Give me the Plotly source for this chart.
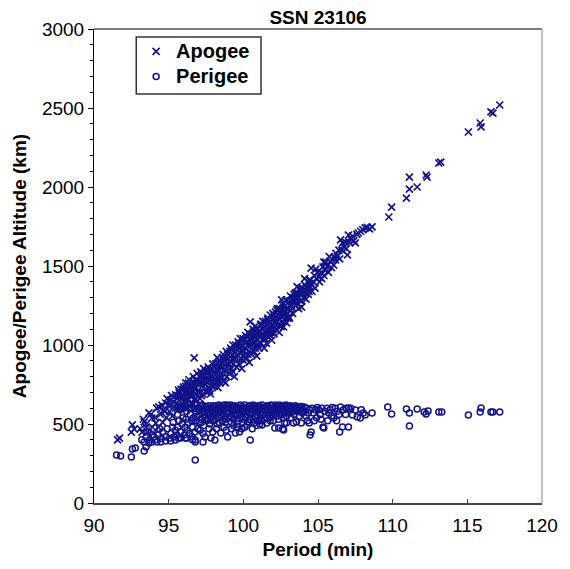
import plotly.graph_objects as go

# Apogee (period min, altitude km)
apogee_points = [
    (91.58, 399), (91.71, 411), (92.50, 449), (92.57, 494), (92.70, 468),
    (93.22, 449), (93.36, 513), (93.49, 481), (93.68, 570), (93.88, 538),
    (94.01, 443), (94.14, 506), (93.1, 470), (93.3, 530), (93.5, 500),
    (93.6, 450), (93.8, 560), (93.9, 480),
    (94.34, 608), (94.67, 589), (94.80, 633), (95.13, 652), (95.46, 684),
    (95.66, 715), (95.99, 734), (96.32, 759),
    (94.1, 540), (94.2, 600), (94.3, 480), (94.45, 560), (94.55, 620),
    (94.6, 510), (94.75, 580), (94.85, 540), (94.95, 620), (94.9, 660),
    (95.05, 580), (95.1, 620), (95.2, 680), (95.25, 550), (95.35, 640),
    (95.45, 600), (95.55, 660), (95.6, 600), (95.7, 700), (95.75, 620),
    (95.85, 680), (95.9, 610), (95.95, 720),
    (95.52, 630), (95.62, 680), (95.72, 650), (95.82, 720), (95.92, 660),
    (96.02, 700), (96.12, 740), (96.22, 700), (96.32, 720), (96.42, 680),
    (96.52, 720), (96.62, 770), (96.72, 760), (96.82, 730), (96.92, 780),
    (96.05, 640), (96.1, 700), (96.15, 760), (96.2, 665), (96.25, 730),
    (96.3, 690), (96.35, 780), (96.4, 620), (96.45, 745), (96.1, 600),
    (96.3, 650), (96.45, 700),
    (96.55, 680), (96.6, 740), (96.65, 800), (96.7, 655), (96.75, 720),
    (96.8, 780), (96.85, 690), (96.9, 820), (96.95, 750), (96.6, 630),
    (96.8, 660), (96.95, 700), (96.71, 918),
    (97.05, 700), (97.1, 770), (97.15, 830), (97.2, 680), (97.25, 740),
    (97.3, 800), (97.35, 850), (97.4, 720), (97.45, 780), (97.1, 660),
    (97.3, 690), (97.45, 830),
    (97.02, 760), (97.12, 800), (97.22, 820), (97.32, 760), (97.42, 810), (97.48, 750),
    (97.55, 700), (97.6, 760), (97.65, 860), (97.7, 730), (97.75, 800),
    (97.8, 690), (97.85, 840), (97.9, 770), (97.95, 880), (97.6, 820),
    (97.75, 710), (97.9, 740),
    (97.52, 790), (97.62, 840), (97.72, 780), (97.82, 810), (97.92, 850), (97.98, 800),
    (98.05, 740), (98.1, 810), (98.15, 880), (98.2, 760), (98.25, 920),
    (98.3, 840), (98.35, 780), (98.4, 900), (98.45, 820), (98.1, 860),
    (98.3, 730), (98.45, 760),
    (98.02, 830), (98.12, 780), (98.22, 850), (98.32, 890), (98.42, 860), (98.48, 800),
    (98.55, 790), (98.6, 860), (98.65, 940), (98.7, 770), (98.75, 900),
    (98.8, 830), (98.85, 960), (98.9, 800), (98.95, 880), (98.6, 920),
    (98.8, 760), (98.95, 940),
    (98.52, 850), (98.62, 890), (98.72, 840), (98.82, 920), (98.92, 860), (98.98, 910),
    (99.05, 820), (99.1, 900), (99.15, 980), (99.2, 850), (99.25, 940),
    (99.3, 1000), (99.35, 880), (99.4, 800), (99.45, 960), (99.1, 960),
    (99.3, 830), (99.45, 910),
    (99.02, 880), (99.12, 930), (99.22, 970), (99.32, 910), (99.42, 950), (99.48, 1000),
    (99.55, 860), (99.6, 940), (99.65, 1020), (99.7, 880), (99.75, 980),
    (99.8, 1040), (99.85, 910), (99.9, 850), (99.95, 1000), (99.6, 990),
    (99.8, 950), (99.95, 930),
    (99.52, 920), (99.62, 970), (99.72, 1010), (99.82, 990), (99.92, 960), (99.98, 1040),
    (100.05, 900), (100.1, 980), (100.15, 1060), (100.2, 920), (100.25, 1020),
    (100.3, 1080), (100.35, 960), (100.4, 890), (100.45, 1040), (100.1, 1030),
    (100.3, 940), (100.45, 990), (100.46, 1146),
    (100.02, 960), (100.12, 1010), (100.22, 1050), (100.32, 1000), (100.42, 1070), (100.48, 950),
    (100.55, 940), (100.6, 1010), (100.65, 1100), (100.7, 960), (100.75, 1060),
    (100.8, 1120), (100.85, 1000), (100.9, 930), (100.95, 1080), (100.6, 1060),
    (100.8, 980), (100.95, 1030),
    (100.52, 1000), (100.62, 1040), (100.72, 1090), (100.82, 1050), (100.92, 1100), (100.98, 1000),
    (101.05, 980), (101.1, 1050), (101.15, 1130), (101.2, 1010), (101.25, 1100),
    (101.3, 1150), (101.35, 1040), (101.4, 980), (101.45, 1120), (101.1, 1090),
    (101.3, 1070), (101.45, 1060),
    (101.02, 1060), (101.12, 1010), (101.22, 1130), (101.32, 1100), (101.42, 1040), (101.48, 1150),
    (101.55, 1010), (101.6, 1090), (101.65, 1170), (101.7, 1050), (101.75, 1140),
    (101.8, 1190), (101.85, 1080), (101.9, 1030), (101.95, 1160), (101.6, 1130),
    (101.8, 1110), (101.95, 1100),
    (101.52, 1080), (101.62, 1160), (101.72, 1120), (101.82, 1060), (101.92, 1130), (101.98, 1200),
    (102.05, 1070), (102.1, 1140), (102.15, 1210), (102.2, 1100), (102.25, 1180),
    (102.3, 1230), (102.35, 1130), (102.4, 1080), (102.45, 1200), (102.04, 1190),
    (102.24, 1222), (102.43, 1160), (102.57, 1285),
    (102.02, 1120), (102.12, 1170), (102.22, 1150), (102.32, 1190), (102.42, 1230), (102.48, 1120),
    (102.55, 1120), (102.6, 1190), (102.65, 1260), (102.7, 1241), (102.75, 1160),
    (102.8, 1220), (102.85, 1280), (102.9, 1140), (102.95, 1200), (102.6, 1150),
    (102.89, 1285), (102.7, 1114),
    (102.52, 1180), (102.62, 1230), (102.72, 1190), (102.82, 1250), (102.92, 1230), (102.98, 1170),
    (103.05, 1180), (103.1, 1250), (103.15, 1310), (103.2, 1220), (103.25, 1280),
    (103.3, 1200), (103.36, 1285), (103.4, 1320), (103.45, 1250), (103.1, 1170),
    (103.3, 1230), (103.45, 1300),
    (103.02, 1230), (103.12, 1280), (103.22, 1250), (103.32, 1300), (103.42, 1270), (103.48, 1330),
    (103.55, 1329), (103.6, 1260), (103.65, 1300), (103.75, 1348), (103.8, 1280),
    (103.85, 1360), (103.9, 1240), (103.95, 1320), (103.6, 1370), (103.7, 1230),
    (103.52, 1290), (103.62, 1330), (103.72, 1300), (103.82, 1320), (103.92, 1280), (103.98, 1360),
    (104.05, 1300), (104.1, 1350), (104.21, 1367), (104.3, 1400), (104.35, 1320),
    (104.41, 1411), (104.45, 1370), (104.2, 1290), (104.4, 1340), (104.1, 1420),
    (104.02, 1340), (104.12, 1380), (104.22, 1330), (104.32, 1360), (104.42, 1390), (104.48, 1410),
    (104.54, 1487), (104.6, 1380), (104.67, 1399), (104.75, 1440), (104.8, 1360),
    (104.9, 1420), (104.95, 1460), (104.6, 1340), (104.85, 1480),
    (105.07, 1430), (105.1, 1400), (105.2, 1460), (105.33, 1494), (105.39, 1525),
    (105.4, 1440), (105.45, 1475), (105.25, 1420),
    (105.53, 1525), (105.53, 1475), (105.6, 1500), (105.7, 1460), (105.8, 1530),
    (105.9, 1490), (105.99, 1538), (105.75, 1560),
    (106.05, 1506), (106.18, 1538), (106.2, 1580), (106.3, 1560), (106.4, 1600),
    (106.45, 1545), (106.1, 1555),
    (106.51, 1665), (106.64, 1646), (106.6, 1600), (106.75, 1620), (106.85, 1650),
    (106.97, 1570), (106.9, 1610),
    (107.04, 1696), (107.1, 1650), (107.2, 1670), (107.3, 1690), (107.4, 1660),
    (107.5, 1646),
    (107.6, 1700), (107.7, 1709), (107.85, 1720), (108.0, 1730), (108.16, 1741),
    (108.3, 1745), (108.62, 1747), (108.45, 1735),
    (109.74, 1810), (109.93, 1873), (110.92, 1930), (111.12, 1987), (111.64, 2000),
    (111.12, 2063), (112.24, 2076), (112.30, 2063), (113.09, 2152), (113.22, 2158),
    (115.07, 2348), (115.86, 2405), (115.92, 2380), (116.58, 2475), (116.71, 2468),
    (117.17, 2519),
]

# Perigee (period min, altitude km)
perigee_points = [
    (91.51, 304), (91.78, 297), (92.50, 291), (92.57, 342), (92.76, 348),
    (93.36, 329), (93.49, 354), (93.36, 386), (93.68, 380), (93.88, 386),
    (94.01, 418), (94.21, 386), (94.47, 386), (94.80, 392), (95.13, 392),
    (95.46, 399), (95.79, 411), (96.12, 411), (96.78, 399), (96.78, 272),
    (97.43, 418), (97.83, 411), (98.09, 399), (96.78, 386), (97.30, 386),
    (93.2, 400), (93.5, 420), (93.7, 400), (93.9, 430), (93.6, 450),
    (94.1, 400), (94.3, 430), (94.5, 410), (94.6, 450), (94.8, 420),
    (94.9, 470), (94.4, 470),
    (95.05, 410), (95.15, 440), (95.25, 480), (95.35, 420), (95.45, 460),
    (95.3, 510),
    (95.55, 430), (95.6, 480), (95.7, 520), (95.8, 450), (95.9, 500),
    (95.95, 540), (95.65, 410), (95.85, 610),
    (95.6, 560), (95.75, 590), (96.0, 600), (96.5, 600), (96.55, 520), (96.95, 600),
    (96.05, 430), (96.1, 480), (96.15, 530), (96.2, 580), (96.25, 460),
    (96.3, 510), (96.35, 620), (96.4, 440), (96.45, 560), (96.2, 410),
    (96.4, 600),
    (96.55, 420), (96.6, 480), (96.65, 540), (96.7, 600), (96.75, 450),
    (96.8, 520), (96.85, 580), (96.9, 620), (96.95, 470), (96.6, 400),
    (96.9, 550), (96.75, 630),
    (97.05, 510), (97.1, 560), (97.15, 600), (97.2, 530), (97.25, 620),
    (97.3, 580), (97.35, 490), (97.4, 550), (97.45, 610), (97.1, 460),
    (97.3, 440),
    (97.02, 590), (97.12, 615), (97.22, 570), (97.32, 600), (97.42, 580), (97.48, 540),
    (97.55, 520), (97.6, 590), (97.65, 560), (97.7, 615), (97.75, 500),
    (97.8, 570), (97.85, 540), (97.9, 600), (97.95, 520), (97.7, 470),
    (97.95, 450),
    (97.52, 610), (97.62, 570), (97.72, 590), (97.82, 600), (97.92, 560), (97.98, 615),
    (98.05, 560), (98.1, 610), (98.15, 530), (98.2, 590), (98.25, 500),
    (98.3, 570), (98.35, 620), (98.4, 540), (98.45, 600), (98.2, 470),
    (98.49, 443),
    (98.02, 590), (98.12, 575), (98.22, 615), (98.32, 600), (98.42, 580), (98.48, 560),
    (98.55, 580), (98.6, 520), (98.65, 615), (98.7, 550), (98.75, 600),
    (98.8, 510), (98.85, 570), (98.9, 620), (98.95, 540), (98.95, 418),
    (98.7, 480), (98.85, 460),
    (98.52, 605), (98.62, 590), (98.72, 620), (98.82, 595), (98.92, 575), (98.98, 610),
    (99.05, 600), (99.1, 550), (99.15, 620), (99.2, 510), (99.25, 580),
    (99.3, 610), (99.35, 530), (99.4, 590), (99.45, 560), (99.47, 443),
    (99.2, 470), (99.35, 490),
    (99.02, 570), (99.12, 595), (99.22, 605), (99.32, 580), (99.42, 615), (99.48, 590),
    (99.55, 610), (99.6, 560), (99.65, 520), (99.7, 600), (99.75, 580),
    (99.8, 620), (99.85, 540), (99.9, 590), (99.95, 510), (99.74, 449),
    (99.6, 480), (99.9, 470),
    (99.52, 585), (99.62, 605), (99.72, 560), (99.82, 595), (99.92, 610), (99.98, 575),
    (100.05, 580), (100.1, 620), (100.15, 540), (100.2, 600), (100.25, 560),
    (100.3, 515), (100.35, 610), (100.4, 570), (100.45, 530), (100.26, 494),
    (100.46, 399), (100.1, 480),
    (100.02, 600), (100.12, 590), (100.22, 580), (100.32, 600), (100.42, 615), (100.48, 590),
    (100.55, 600), (100.6, 560), (100.65, 620), (100.7, 530), (100.75, 590),
    (100.8, 610), (100.85, 550), (100.9, 580), (100.95, 520), (100.72, 506),
    (100.6, 470), (100.9, 490),
    (100.52, 575), (100.62, 600), (100.72, 610), (100.82, 585), (100.92, 600), (100.98, 615),
    (101.05, 610), (101.1, 570), (101.15, 540), (101.2, 600), (101.25, 620),
    (101.3, 560), (101.35, 590), (101.4, 530), (101.45, 605), (101.25, 494),
    (101.1, 500),
    (101.02, 590), (101.12, 610), (101.22, 580), (101.32, 605), (101.42, 590), (101.48, 570),
    (101.55, 590), (101.6, 615), (101.65, 560), (101.7, 600), (101.75, 540),
    (101.8, 580), (101.85, 620), (101.9, 555), (101.95, 600), (101.58, 506),
    (101.8, 520),
    (101.52, 610), (101.62, 590), (101.72, 575), (101.82, 600), (101.92, 615), (101.98, 585),
    (102.05, 600), (102.1, 570), (102.15, 620), (102.2, 550), (102.25, 590),
    (102.3, 610), (102.35, 530), (102.4, 580), (102.45, 600), (102.11, 475),
    (102.37, 475),
    (102.02, 580), (102.12, 600), (102.22, 610), (102.32, 585), (102.42, 620), (102.48, 570),
    (102.55, 590), (102.6, 560), (102.65, 610), (102.7, 540), (102.75, 600),
    (102.8, 575), (102.85, 620), (102.9, 550), (102.95, 595), (102.63, 468),
    (102.7, 462), (102.76, 506), (102.89, 506),
    (102.52, 610), (102.62, 590), (102.72, 615), (102.82, 600), (102.92, 580), (102.98, 610),
    (103.05, 600), (103.1, 570), (103.15, 615), (103.2, 540), (103.25, 590),
    (103.3, 605), (103.36, 506), (103.4, 560), (103.45, 590),
    (103.02, 580), (103.12, 600), (103.22, 610), (103.32, 580), (103.42, 600), (103.48, 615),
    (103.55, 608), (103.55, 513), (103.6, 580), (103.7, 600), (103.75, 550),
    (103.8, 590), (103.88, 506), (103.9, 610), (103.95, 570),
    (103.52, 590), (103.62, 605), (103.72, 580), (103.82, 610), (103.92, 595), (103.98, 585),
    (97.2, 510), (97.6, 530), (98.0, 520), (98.4, 510), (98.8, 530), (99.2, 540),
    (99.6, 500), (100.0, 530), (100.4, 510), (100.8, 540), (101.2, 520), (101.6, 540),
    (102.0, 520), (102.4, 550),
    (104.08, 608), (104.1, 580), (104.2, 550), (104.25, 600), (104.35, 570),
    (104.41, 506), (104.45, 590), (104.47, 430), (104.3, 520),
    (104.54, 449), (104.6, 600), (104.7, 570), (104.8, 590), (104.9, 540),
    (104.95, 605), (104.75, 520),
    (105.05, 590), (105.15, 560), (105.25, 600), (105.33, 481), (105.39, 475),
    (105.45, 580), (105.2, 530),
    (105.6, 600), (105.72, 570), (105.8, 590), (105.9, 550), (106.05, 538),
    (105.95, 605), (105.65, 520),
    (106.15, 600), (106.3, 580), (106.45, 449), (106.4, 560), (106.51, 608),
    (106.25, 520),
    (106.64, 481), (106.7, 590), (106.85, 560), (106.9, 600), (107.04, 601),
    (107.04, 481),
    (107.3, 557), (107.5, 589), (107.63, 544), (107.83, 538), (108.03, 570),
    (108.16, 557), (108.62, 570), (107.2, 600), (107.9, 590),
    (109.67, 608), (109.93, 563), (110.92, 595), (111.12, 570), (111.12, 487),
    (111.64, 595), (112.11, 576), (112.37, 582), (112.24, 563), (113.09, 576),
    (113.29, 576), (115.07, 557), (115.86, 576), (115.92, 601), (116.58, 576),
    (116.71, 576), (117.17, 576),
]

x_ticks = [90, 95, 100, 105, 110, 115, 120]
y_ticks = [0, 500, 1000, 1500, 2000, 2500, 3000]

NAVY = "#12128a"
FONT = "Arial, 'Liberation Sans', sans-serif"

fig = go.Figure()
fig.add_trace(go.Scatter(
    x=[p for p, a in apogee_points], y=[a for p, a in apogee_points],
    mode="markers", name="<span style='font-size:20px'>Apogee</span>",
    marker=dict(symbol="x-thin", size=7, line=dict(color=NAVY, width=1.7), color=NAVY),
))
fig.add_trace(go.Scatter(
    x=[p for p, a in perigee_points], y=[a for p, a in perigee_points],
    mode="markers", name="<span style='font-size:20px'>Perigee</span>",
    marker=dict(symbol="circle-open", size=6, line=dict(color=NAVY, width=1.5), color=NAVY),
))

fig.update_layout(
    width=570, height=569,
    margin=dict(l=94, r=20, t=29, b=66),
    paper_bgcolor="white", plot_bgcolor="white",
    font=dict(family=FONT, size=19, color="black"),
    title=dict(text="<b>SSN 23106</b>", x=0.5, xref="paper", xanchor="center",
               y=1 - 17 / 569, yref="container", yanchor="middle",
               font=dict(size=19, family=FONT, color="black")),
    showlegend=True,
    legend=dict(x=0.094, y=0.99, xanchor="left", yanchor="top",
                bgcolor="rgba(0,0,0,0)", borderwidth=0,
                font=dict(size=17, family=FONT, color="black", weight="bold"),
                tracegroupgap=0, itemwidth=30),
    xaxis=dict(range=[90, 120], tickvals=x_ticks, ticks="inside", ticklen=4,
               tickcolor="#444444", showline=True, linecolor="#444444", linewidth=2,
               showgrid=False, zeroline=False, ticklabelstandoff=4,
               tickfont=dict(size=19),
               title=dict(text="<b>Period (min)</b>", standoff=8, font=dict(size=19))),
    yaxis=dict(range=[0, 3000], tickvals=y_ticks, ticks="outside", ticklen=5,
               tickcolor="black", showline=True, linecolor="black", linewidth=1,
               showgrid=False, zeroline=False,
               minor=dict(dtick=100, ticks="outside", ticklen=3, tickcolor="black", showgrid=False),
               tickfont=dict(size=19),
               title=dict(text="<b>Apogee/Perigee Altitude (km)</b>", standoff=10, font=dict(size=19))),
    shapes=[
        dict(type="line", xref="paper", yref="paper", x0=0, x1=1, y0=1, y1=1,
             line=dict(color="black", width=1.2)),
        dict(type="line", xref="paper", yref="paper", x0=1, x1=1, y0=0, y1=1,
             line=dict(color="#999999", width=1.2)),
        dict(type="rect", xref="paper", yref="paper",
             x0=(137 - 94) / 456, x1=(264 - 94) / 456,
             y0=(503 - 94) / 474, y1=(503 - 37) / 474,
             line=dict(color="#333333", width=1.5), fillcolor="white", layer="above"),
    ],
)

fig.write_html("out.html")
